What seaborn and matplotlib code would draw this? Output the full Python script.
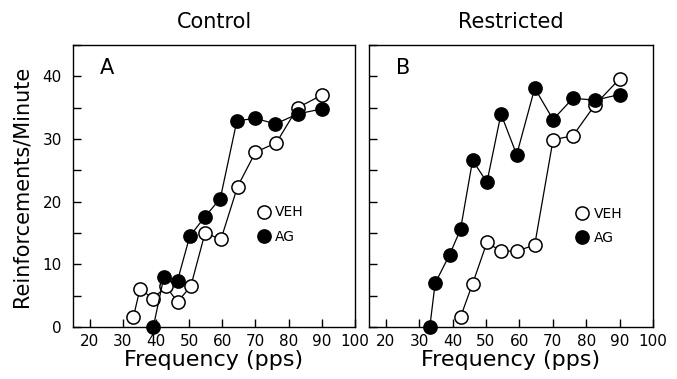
import matplotlib
matplotlib.use('Agg')
import matplotlib.pyplot as plt
import seaborn as sns
from matplotlib.lines import Line2D
from matplotlib.ticker import MultipleLocator

# panel A - Control
ctrl_veh_freq = [33.2, 35.2, 39.2, 43.0, 46.5, 50.5, 54.8, 59.6, 64.6, 70.0, 76.3, 82.7, 90.0]
ctrl_veh_rate = [1.6, 6.1, 4.5, 6.5, 4.0, 6.5, 15.0, 14.0, 22.4, 27.9, 29.4, 35.0, 37.0]
ctrl_ag_freq = [39.2, 42.4, 46.5, 50.2, 54.8, 59.4, 64.4, 70.0, 76.0, 82.7, 90.0]
ctrl_ag_rate = [0.0, 8.0, 7.4, 14.5, 17.6, 20.5, 32.9, 33.3, 32.4, 34.0, 34.8]

# panel B - Restricted
rest_veh_freq = [42.4, 46.0, 50.3, 54.5, 59.2, 64.6, 70.1, 76.0, 82.7, 90.0]
rest_veh_rate = [1.6, 6.9, 13.5, 12.1, 12.1, 13.1, 29.9, 30.5, 35.5, 39.6]
rest_ag_freq = [33.2, 34.8, 39.1, 42.4, 46.0, 50.3, 54.5, 59.2, 64.6, 70.1, 76.0, 82.7, 90.0]
rest_ag_rate = [0.0, 7.0, 11.5, 15.6, 26.6, 23.1, 34.0, 27.5, 38.1, 33.1, 36.5, 36.2, 37.1]

x_ticks = [20, 30, 40, 50, 60, 70, 80, 90, 100]
y_ticks = [0, 10, 20, 30, 40]

sns.set_style('ticks')
plt.rcParams['font.family'] = ['DejaVu Sans']
plt.rcParams['text.color'] = 'black'
plt.rcParams['axes.labelcolor'] = 'black'

fig = plt.figure(figsize=(6.77, 3.79), dpi=100)
ax_a = fig.add_axes([73 / 677, 1 - 327 / 379, 282 / 677, 282 / 379])
ax_b = fig.add_axes([369 / 677, 1 - 327 / 379, 284 / 677, 282 / 379])

panels = [
    (ax_a, 'Control', 'A', ctrl_veh_freq, ctrl_veh_rate, ctrl_ag_freq, ctrl_ag_rate, (0.652, 0.363)),
    (ax_b, 'Restricted', 'B', rest_veh_freq, rest_veh_rate, rest_ag_freq, rest_ag_rate, (0.727, 0.358)),
]

for ax, title, letter, vf, vr, af, ar, leg_pos in panels:
    # open circles for vehicle, filled for AG
    sns.lineplot(x=vf, y=vr, ax=ax, color='black', linewidth=0.9, marker='o',
                 markersize=9.5, markerfacecolor='white', markeredgecolor='black',
                 markeredgewidth=1.1, clip_on=False)
    sns.lineplot(x=af, y=ar, ax=ax, color='black', linewidth=0.9, marker='o',
                 markersize=9.5, markerfacecolor='black', markeredgecolor='black',
                 markeredgewidth=1.1, clip_on=False)
    ax.set_xlim(15, 100)
    ax.set_ylim(0, 45)
    ax.set_xticks(x_ticks)
    ax.set_yticks(y_ticks)
    ax.yaxis.set_minor_locator(MultipleLocator(5))
    ax.tick_params(axis='both', which='both', direction='in', length=6, width=1,
                   labelsize=11, colors='black')
    ax.tick_params(axis='x', pad=5)
    ax.tick_params(axis='y', pad=8)
    for s in ax.spines.values():
        s.set_visible(True)
        s.set_linewidth(1.0)
        s.set_color('black')
    ax.set_title(title, fontsize=15, pad=12, color='black')
    ax.set_xlabel('Frequency (pps)', fontsize=16, labelpad=1)
    ax.text(0.12, 0.92, letter, transform=ax.transAxes, fontsize=15,
            ha='center', va='center')
    handles = [
        Line2D([], [], ls='none', marker='o', ms=9.5, mfc='white', mec='black', mew=1.1),
        Line2D([], [], ls='none', marker='o', ms=9.5, mfc='black', mec='black', mew=1.1),
    ]
    ax.legend(handles, ['VEH', 'AG'], loc='center left', bbox_to_anchor=leg_pos,
              frameon=False, fontsize=10, handlelength=1.0, handletextpad=0.3,
              labelspacing=0.75, borderpad=0, borderaxespad=0)

ax_a.set_ylabel('Reinforcements/Minute', fontsize=15, labelpad=8)
ax_b.set_ylabel('')
ax_b.tick_params(axis='y', labelleft=False)

plt.savefig('out.png', dpi=100)
plt.close()
